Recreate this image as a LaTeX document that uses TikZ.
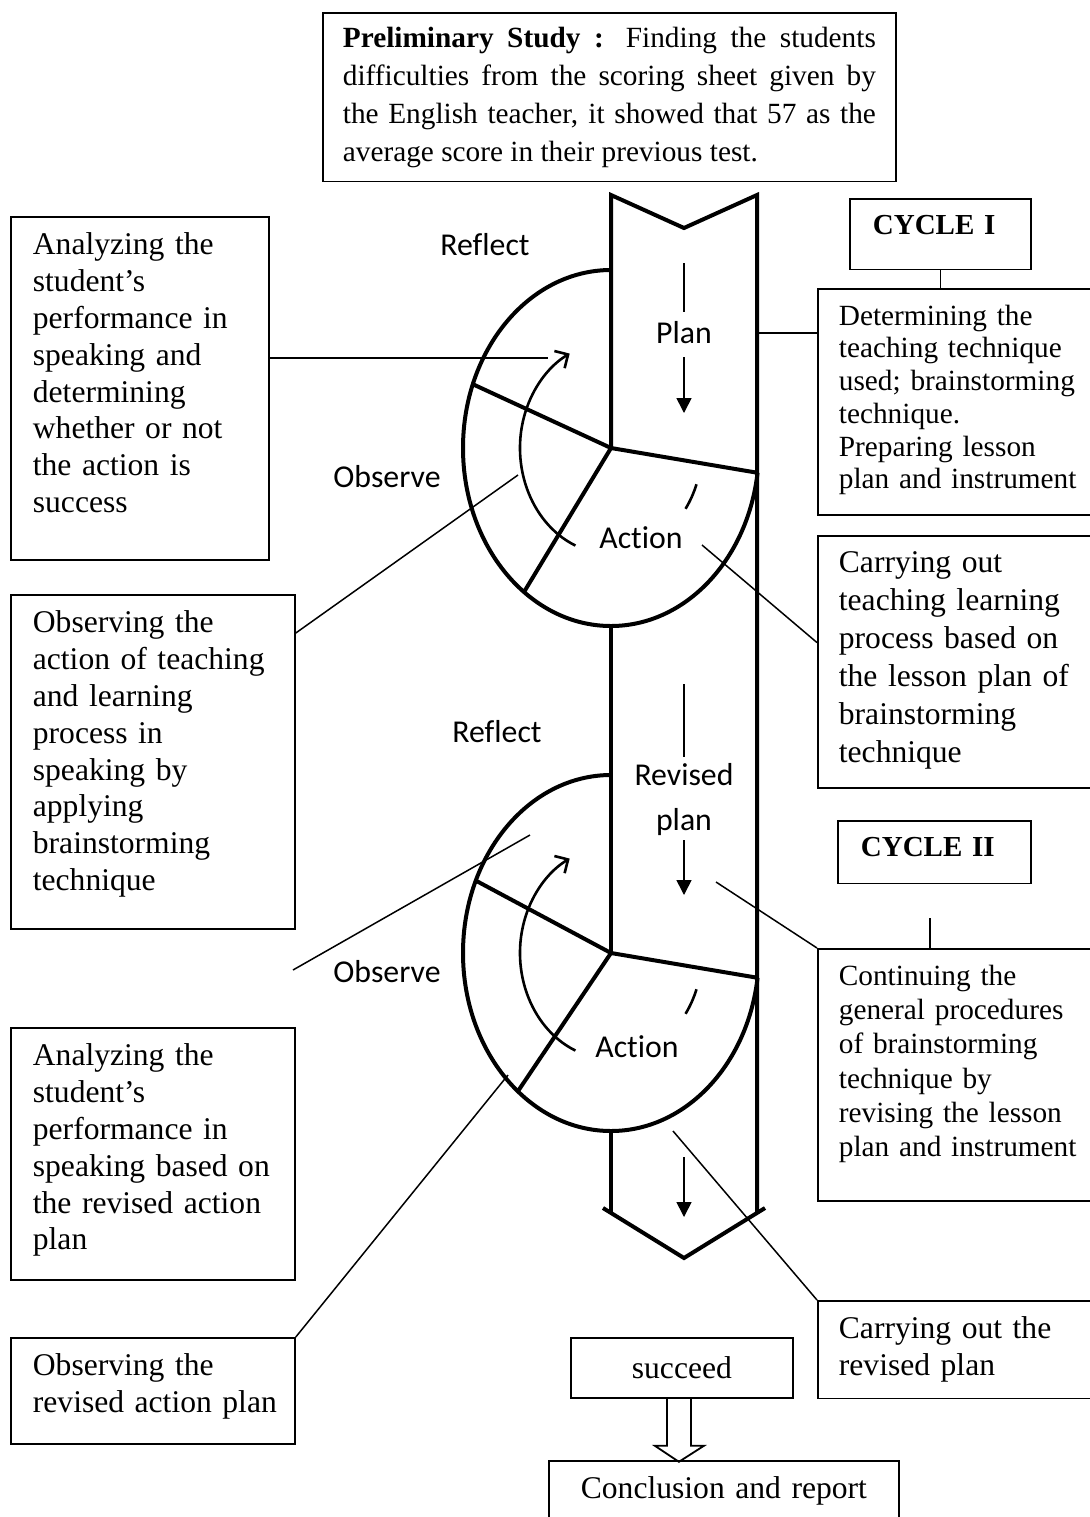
\documentclass[tikz,border=0pt]{standalone}
\usepackage{fontspec}
\setmainfont{Liberation Serif}
\newfontfamily\lblfont[RawFeature={-liga;-clig;-dlig;-calt}]{Carlito}
\usetikzlibrary{arrows.meta}
\newcommand{\lowstrut}[1]{\rule[-#1]{0pt}{#1}}
\begin{document}
\begin{tikzpicture}[x=0.5pt,y=0.5pt,
	txtbox/.style={draw,line width=0.9pt,anchor=north west,align=left,inner xsep=11pt,inner ysep=8pt,font=\fontsize{15.8}{18.4}\selectfont},
	sidebox/.style={txtbox,inner xsep=10.5pt,font=\fontsize{14.65}{16.35}\selectfont},
	cyclebox/.style={txtbox,inner xsep=11.5pt,font=\bfseries\fontsize{14.5}{17}\selectfont},
	stage/.style={font=\lblfont\fontsize{15.9}{22.5}\selectfont,align=center},
	cycleline/.style={line width=2pt},
	turn/.style={line width=1.3pt},
	flowline/.style={line width=0.8pt},
	flowtip/.style={flowline,-{Triangle[length=7.5pt,width=7.5pt]}},
	leader/.style={line width=0.75pt}]
	\path[fill=white,use as bounding box] (0,0) rectangle (1090,-1517);

	% top box
	\node[txtbox,align=justify,text width=266.5pt,inner xsep=10pt,inner ysep=7pt,font=\fontsize{14.65}{19}\selectfont] (prelim) at (322,-12) {\textbf{Preliminary Study :} Finding the students\linebreak difficulties from the scoring sheet given by\linebreak the English teacher, it showed that 57 as the\linebreak average score in their previous test.};

	% the big arrow
	\coordinate (c1) at (611,-448);
	\coordinate (c2) at (611,-953);
	\draw[cycleline,line join=miter] (c1) -- (611,-195) -- (684,-228) -- (757,-195) -- (757,-1213);
	\draw[cycleline] (611,-626) -- (c2);
	\draw[cycleline] (611,-1131) -- (611,-1213);
	\draw[cycleline] (603,-1208) -- (684,-1258) -- (765,-1208);

	% cycle I
	\draw[cycleline] (c1) ++(90:148 and 178) arc[start angle=90,end angle=352,x radius=148,y radius=178] coordinate (c1r);
	\draw[cycleline] (c1) ++(159:148 and 178) -- (c1) -- (c1r);
	\draw[cycleline] (c1) -- ++(234:148 and 178);
	\draw[turn,-{Straight Barb[length=5pt,width=10pt]}] (c1) ++(247:91 and 106) arc[start angle=247,end angle=117,x radius=91,y radius=106];
	\draw[turn] (c1) ++(340:91 and 106) arc[start angle=340,end angle=325,x radius=91,y radius=106];

	% cycle II
	\draw[cycleline] (c2) ++(90:148 and 178) arc[start angle=90,end angle=352,x radius=148,y radius=178] coordinate (c2r);
	\draw[cycleline] (c2) ++(156:148 and 178) -- (c2) -- (c2r);
	\draw[cycleline] (c2) -- ++(231:148 and 178);
	\draw[turn,-{Straight Barb[length=5pt,width=10pt]}] (c2) ++(247:91 and 106) arc[start angle=247,end angle=117,x radius=91,y radius=106];
	\draw[turn] (c2) ++(340:91 and 106) arc[start angle=340,end angle=325,x radius=91,y radius=106];

	\node[stage] (refl1) at (485,-245) {Ref\kern0pt lect};
	\node[stage] (obsv1) at (387,-477) {Observe};
	\node[stage] (plan1) at (684,-333) {Plan};
	\node[stage] (act1) at (641,-538) {Act\kern0pt ion};
	\node[stage] (refl2) at (497,-732) {Ref\kern0pt lect};
	\node[stage] (obsv2) at (387,-972) {Observe};
	\node[stage] (plan2) at (684,-800) {Revised\\plan};
	\node[stage] (act2) at (637,-1047) {Act\kern0pt ion};

	\draw[flowline] (684,-263) -- (684,-312);
	\draw[flowtip] (684,-357) -- (684,-413);
	\draw[flowline] (684,-684) -- (684,-757);
	\draw[flowtip] (684,-840) -- (684,-895);
	\draw[flowtip] (684,-1157) -- (684,-1217);

	% left boxes
	\node[txtbox,text width=107pt] (anal1) at (10,-216) {Analyzing the\\student’s\\performance in\\speaking and\\determining\\whether or not\\the action is\\success\lowstrut{15.9pt}};
	\node[txtbox,text width=120pt] (obs1) at (10,-594) {Observing the\\action of teaching\\and learning\\process in\\speaking by\\applying\\brainstorming\\technique\lowstrut{11.4pt}};
	\node[txtbox,text width=120pt] (anal2) at (10,-1027) {Analyzing the\\student’s\\performance in\\\mbox{speaking based on}\\the revised action\\plan\lowstrut{7.2pt}};
	\node[txtbox,text width=120pt] (obs2) at (10,-1337) {Observing the\\\mbox{revised action plan}\lowstrut{7.8pt}};

	% right boxes
	\node[cyclebox,text width=67.5pt] (cyc1) at (849,-198) {CYCLE I\lowstrut{9.65pt}};
	\node[sidebox,text width=125pt] (det1) at (817,-288) {Determining the\\teaching technique\\used; brainstorming\\technique.\\Preparing lesson\\plan and instrument\lowstrut{5.25pt}};
	\node[txtbox,inner xsep=10.5pt,text width=120pt,font=\fontsize{15.8}{19}\selectfont] (carry1) at (817,-535) {Carrying out\\teaching learning\\process based on\\the lesson plan of\\brainstorming\\technique\lowstrut{4.7pt}};
	\node[cyclebox,text width=73.5pt] (cyc2) at (837,-820) {CYCLE II\lowstrut{5.65pt}};
	\node[sidebox,text width=125pt,font=\fontsize{14.65}{17.15}\selectfont] (cont2) at (817,-948) {Continuing the\\general procedures\\of brainstorming\\technique by\\revising the lesson\\plan and instrument\lowstrut{14.25pt}};
	\node[txtbox,inner xsep=10.5pt,text width=120pt,font=\fontsize{15.8}{18.5}\selectfont] (carry2) at (817,-1300) {Carrying out the\\revised plan\lowstrut{3.2pt}};

	% bottom
	\node[draw,line width=0.9pt,anchor=north west,minimum width=111pt,minimum height=30pt,inner sep=0pt,font=\fontsize{15.8}{18.4}\selectfont] (succeed) at (570,-1337) {succeed};
	\node[txtbox,align=center,text width=155pt,inner xsep=10pt] (concl) at (548,-1460) {Conclusion and report\lowstrut{6pt}};
	\draw[line width=0.9pt] (succeed.south) ++(-15,0) -- ++(0,-47) -- ++(-12,0) -- ++(24,-16) -- ++(25,16) -- ++(-13,0) -- ++(0,47);

	% leader lines
	\coordinate (p1) at (548,-358);
	\draw[leader] (anal1.east |- p1) -- (p1);
	\coordinate (o1) at (518,-475);
	\draw[leader] ([yshift=-19.5pt]obs1.north east) -- (o1);
	\coordinate (p2a) at (293,-970);
	\coordinate (p2) at (530,-835);
	\draw[leader] (p2a) -- (p2);
	\coordinate (o2) at (508,-1075);
	\draw[leader] (obs2.north east) -- (o2);
	\coordinate (pl1) at (757,-333);
	\draw[leader] (det1.west |- pl1) -- (pl1);
	\coordinate (a1) at (702,-545);
	\draw[leader] (a1) -- ([yshift=9.75pt]carry1.west);
	\coordinate (pl2) at (716,-882);
	\draw[leader] (pl2) -- (cont2.north west);
	\coordinate (a2) at (673,-1131);
	\draw[leader] (a2) -- (carry2.north west);
	\draw[leader] (cyc1.south) -- (cyc1.south |- det1.north);
	\coordinate (cy2) at (930,-918);
	\draw[leader] (cy2) -- (cy2 |- cont2.north);
\end{tikzpicture}
\end{document}
